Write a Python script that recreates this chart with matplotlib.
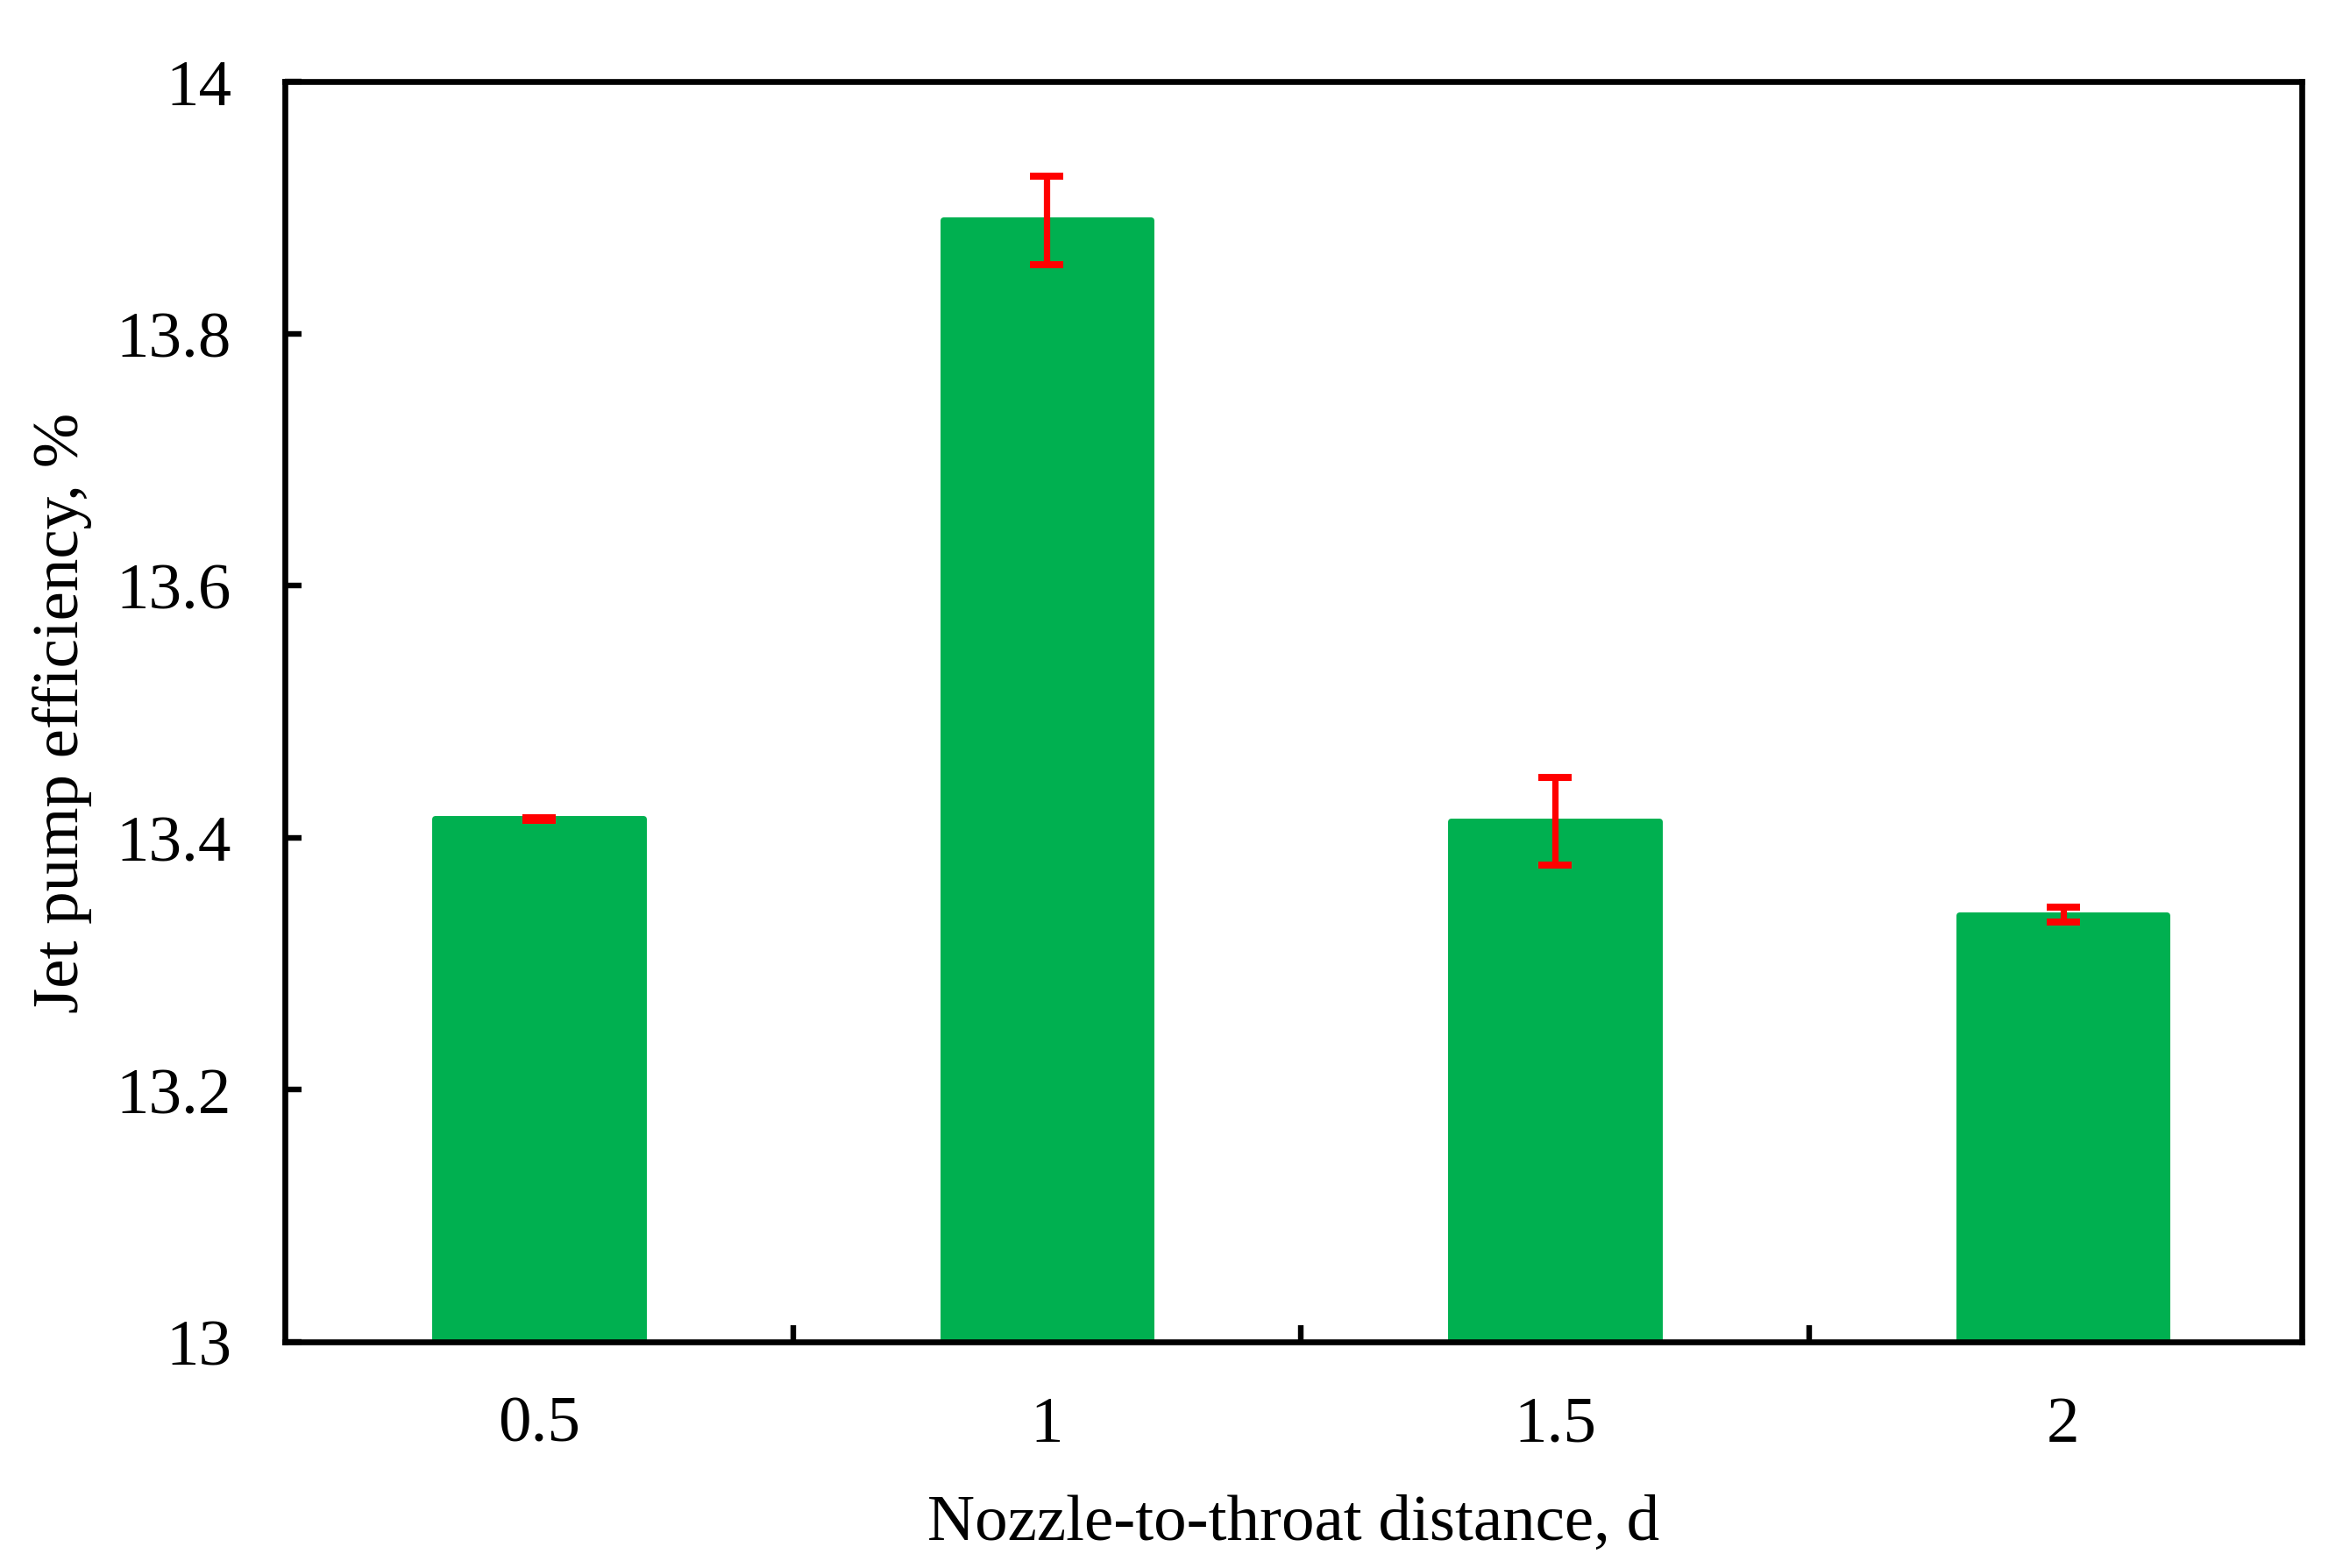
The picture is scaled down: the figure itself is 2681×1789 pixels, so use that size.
import matplotlib
matplotlib.use("Agg")
import matplotlib.pyplot as plt
from matplotlib.ticker import FixedLocator

categories = ["0.5", "1", "1.5", "2"]
efficiency = [13.415, 13.890, 13.413, 13.339]
errors = [0.001, 0.035, 0.035, 0.006]
yticks = [13, 13.2, 13.4, 13.6, 13.8, 14]
ytick_labels = ["13", "13.2", "13.4", "13.6", "13.8", "14"]

plt.rcParams['font.family'] = ['Liberation Serif', 'DejaVu Serif']

fig = plt.figure(figsize=(2681/200, 1790/200), dpi=200)
ax = fig.add_axes([325/2681, 1-1532/1790, (2626-325)/2681, (1532-94)/1790])

x = list(range(len(categories)))
bars = ax.bar(x, efficiency, width=0.41, color="#00B050", edgecolor="#00B050",
              linewidth=2.5, zorder=2)
for b in bars:
    b.set_joinstyle('round')

ax.errorbar(x, efficiency, yerr=errors, fmt='none', ecolor="#FF0000",
            elinewidth=2.6, capsize=6.9, capthick=2.9, zorder=3)

ax.set_xlim(-0.5, 3.47)
ax.set_ylim(13, 14)
ax.set_xticks(x)
ax.set_xticklabels(categories)
ax.xaxis.set_minor_locator(FixedLocator([0.5, 1.5, 2.5]))
ax.set_yticks(yticks)
ax.set_yticklabels(ytick_labels)

ax.tick_params(axis='x', which='major', length=0, pad=22, labelsize=27)
ax.tick_params(axis='x', which='minor', direction='in', length=7, width=2.3)
ax.tick_params(axis='y', which='major', direction='in', length=7, width=2.3,
               pad=22, labelsize=27)

for s in ax.spines.values():
    s.set_linewidth(2.4)
    s.set_zorder(4)

ax.set_xlabel("Nozzle-to-throat distance, d", fontsize=27, labelpad=16)
ax.set_ylabel("Jet pump efficiency, %", fontsize=27, labelpad=10)

fig.savefig("out.png", dpi=200)
